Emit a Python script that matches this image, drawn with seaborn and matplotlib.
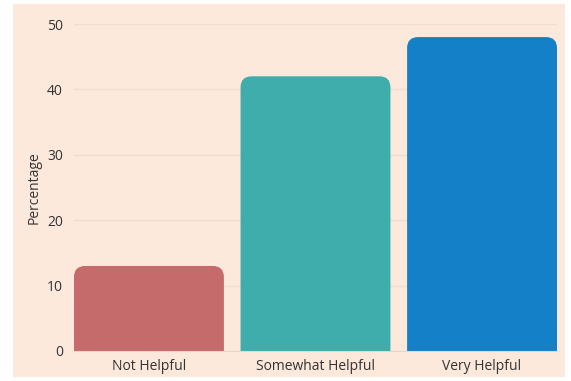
import matplotlib
matplotlib.use("Agg")
import matplotlib.pyplot as plt
from matplotlib.patches import FancyBboxPatch, Rectangle
import seaborn as sns
import pandas as pd

categories = ["Not Helpful", "Somewhat Helpful", "Very Helpful"]
percentages = [13, 42, 48]
colors = ["#C56B6B", "#3EADAB", "#1380C8"]
yticks = [0, 10, 20, 30, 40, 50]

df = pd.DataFrame({"cat": categories, "pct": percentages})

sns.set_style("white")
plt.rcParams['font.family'] = ['Open Sans', 'DejaVu Sans']

bg = "#FDE8DC"
fig = plt.figure(figsize=(5.71, 3.81), dpi=100, facecolor="white")
fig.patches.append(Rectangle((13/571, 4/381), 552/571, 373/381, transform=fig.transFigure,
                             facecolor=bg, edgecolor="none", zorder=-10))
ax = fig.add_axes([74/571, 1-351/381, 483/571, 327/381])
ax.set_facecolor("none")
ax.set_zorder(5)

sns.barplot(data=df, x="cat", y="pct", hue="cat", palette=colors, width=0.9,
            ax=ax, legend=False, saturation=1)

ax.set_xlim(-0.45, 2.45)
ax.set_ylim(0, 50)
ax.set_yticks(yticks)
ax.grid(axis="y", color="#F0DDD2", linewidth=1)
ax.set_axisbelow(True)
for s in ["top", "right", "left"]:
    ax.spines[s].set_visible(False)
ax.spines["bottom"].set_color("#E8D6CB")
ax.tick_params(length=0, labelsize=10, colors="#333333", pad=6)
ax.tick_params(axis="y", pad=8)
ax.set_xlabel("")
ax.set_ylabel("Percentage", fontsize=10, color="#333333", labelpad=4)

fig.canvas.draw()
p0 = ax.transData.transform((0, 0))
p1 = ax.transData.transform((1, 1))
aspect = (1 / (p1[1] - p0[1])) / (1 / (p1[0] - p0[0]))
xpp = 1 / (p1[0] - p0[0])
r = 11 * xpp
for bar in list(ax.patches):
    x, w, h = bar.get_x(), bar.get_width(), bar.get_height()
    fc = bar.get_facecolor()
    bar.set_visible(False)
    extra = r * aspect * 2
    fb = FancyBboxPatch((x, -extra), w, h + extra,
                        boxstyle=f"round,pad=0,rounding_size={r}",
                        mutation_aspect=aspect, facecolor=fc, edgecolor="none", zorder=2)
    ax.add_patch(fb)

fig.savefig("out.png", dpi=100, facecolor="white")
